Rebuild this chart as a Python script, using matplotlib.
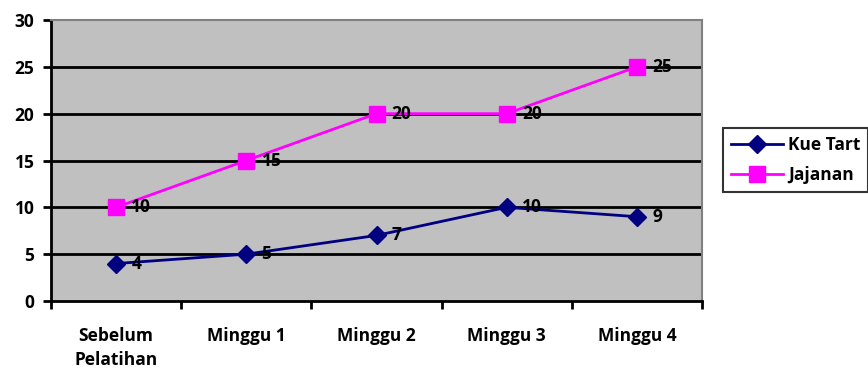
import matplotlib.pyplot as plt

# Data
categories = ['Sebelum\nPelatihan', 'Minggu 1', 'Minggu 2', 'Minggu 3', 'Minggu 4']
kue_tart = [4, 5, 7, 10, 9]
jajanan = [10, 15, 20, 20, 25]
yticks = [0, 5, 10, 15, 20, 25, 30]

plt.rcParams['font.family'] = ['Open Sans', 'DejaVu Sans']
plt.rcParams['font.weight'] = 'bold'
FS = 12.5

fig = plt.figure(figsize=(8.68, 3.71), dpi=100)
ax = fig.add_axes([51 / 868, 1 - 301 / 371, (702 - 51) / 868, (301 - 20) / 371])
ax.set_facecolor('#C0C0C0')

x = list(range(len(categories)))

# gridlines
for y in yticks[1:-1]:
    ax.axhline(y, color='black', lw=2, zorder=1)

ax.plot(x, kue_tart, color='#000080', lw=2, marker='D', ms=9, label='Kue Tart', zorder=3)
ax.plot(x, jajanan, color='#FF00FF', lw=2, marker='s', ms=11, label='Jajanan', zorder=3)

# data labels
for xi, v in zip(x, kue_tart):
    ax.annotate(str(v), (xi, v), xytext=(11, 0), textcoords='offset points',
                va='center', ha='left', fontsize=FS, fontweight='bold', zorder=4)
for xi, v in zip(x, jajanan):
    ax.annotate(str(v), (xi, v), xytext=(11, 0), textcoords='offset points',
                va='center', ha='left', fontsize=FS, fontweight='bold', zorder=4)

ax.set_xlim(-0.5, len(categories) - 0.5)
ax.set_ylim(0, 30)
ax.set_yticks(yticks)
ax.set_xticks(x)
ax.set_xticklabels(categories, fontsize=FS, fontweight='bold', linespacing=1.4)
ax.set_xticks([i - 0.5 for i in range(len(categories) + 1)], minor=True)
ax.tick_params(axis='x', which='major', length=0, pad=19)
ax.tick_params(axis='x', which='minor', length=6, width=2, direction='out')
ax.tick_params(axis='y', length=6, width=2, direction='out', labelsize=FS, pad=6)
for lab in ax.get_yticklabels():
    lab.set_fontweight('bold')

ax.spines['left'].set_linewidth(2)
ax.spines['bottom'].set_linewidth(2)
ax.spines['top'].set_color('#808080')
ax.spines['right'].set_color('#808080')
ax.spines['top'].set_linewidth(1.5)
ax.spines['right'].set_linewidth(1.5)

leg = fig.legend(loc='center left', bbox_to_anchor=(723 / 868, 1 - 160 / 371),
                 frameon=True, fancybox=False, edgecolor='black', fontsize=FS,
                 handlelength=3.0, borderpad=0.45, labelspacing=0.7, handletextpad=0.3,
                 borderaxespad=0)
leg.get_frame().set_linewidth(1.5)
for t in leg.get_texts():
    t.set_fontweight('bold')

fig.savefig('out.png', dpi=100)
